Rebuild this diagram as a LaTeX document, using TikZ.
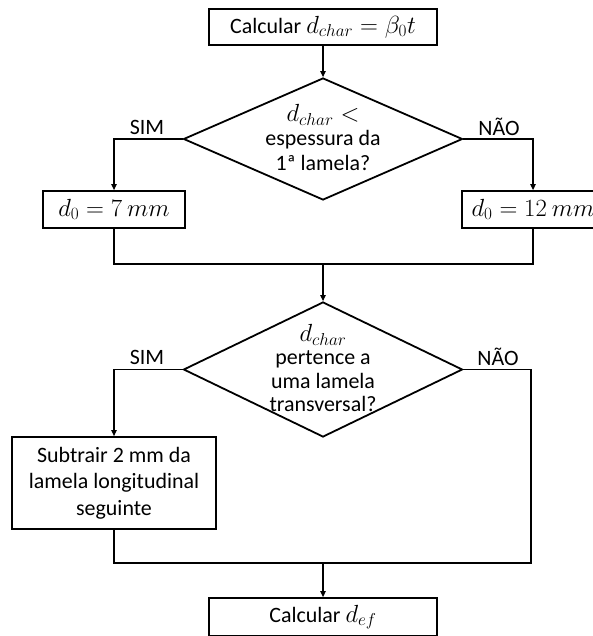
\documentclass[tikz,border=0pt]{standalone}
\usepackage{fontspec}
\setmainfont{Carlito}
\DeclareMathSizes{22}{23.5}{16.5}{12}
\usetikzlibrary{shapes.geometric,arrows.meta}

% diamond text that does not change the size of the diamond
\newcommand{\dtext}[1]{\smash{\raisebox{-8bp}{\begin{tabular}{@{}c@{}}#1\end{tabular}}}}

\begin{document}
\begin{tikzpicture}[x=1bp, y=-1bp,
        every node/.style={font=\fontsize{22}{26.5}\selectfont},
        boxnode/.style={rectangle, draw=black, line width=1.8bp, inner sep=2bp, align=center},
        decisionnode/.style={diamond, draw=black, line width=1.8bp, inner sep=0pt,
            minimum width=279bp, minimum height=122bp, font=\fontsize{22}{24.5}\selectfont},
        flowline/.style={line width=1.2bp, -{Triangle[length=6bp,width=5.5bp]}},
        joinline/.style={line width=1.2bp},
        ]
            \clip (0,0) rectangle (593,636);

            \node[boxnode, minimum width=228bp, minimum height=36bp] at(323,27) (calc) {Calcular $d_{char} = \beta_0 t$};
            \node[decisionnode] at(323,139) (dec1) {\dtext{$d_{char} <$\\ espessura da\\ 1ª lamela?}};
            \node[boxnode, minimum width=142bp, minimum height=37bp] at(114,209.5) (dsim) {$d_0 = 7\ mm$};
            \node[boxnode, minimum width=142bp, minimum height=37bp] at(533,209.5) (dnao) {$d_0 = 12\ mm$};
            \node[decisionnode, minimum height=135bp, font=\fontsize{22}{23.5}\selectfont] at(323,369.5) (dec2) {\dtext{$d_{char}$\\ pertence a\\ uma lamela\\ transversal?}};
            \node[boxnode, minimum width=204bp, minimum height=92bp] at(114,483) (sub) {Subtrair 2 mm da\\ lamela longitudinal\\ seguinte};
            \node[boxnode, minimum width=228bp, minimum height=38bp] at(323,617) (calcef) {Calcular $d_{ef}$};

            \node at(147,127) (sim1) {SIM};
            \node at(499,127) (nao1) {NÃO};
            \node at(147,357) (sim2) {SIM};
            \node at(498,357) (nao2) {NÃO};

            \coordinate (join1) at(323,264);
            \coordinate (join2) at(323,563);
            \coordinate (corner2) at(531,563);

            \draw[flowline] (calc)  --  (dec1) ;
            \draw[flowline] (dec1.west)  -|  (dsim.north) ;
            \draw[flowline] (dec1.east)  -|  (dnao.north) ;
            \draw[joinline] (dsim.south)  |-  (join1)  -|  (dnao.south) ;
            \draw[flowline] (join1)  --  (dec2) ;
            \draw[flowline] (dec2.west)  -|  (sub.north) ;
            \draw[joinline] (dec2.east)  -|  (corner2)  --  (sub.south |- corner2)  --  (sub.south) ;
            \draw[flowline] (join2)  --  (calcef) ;

            \end{tikzpicture}
\end{document}
